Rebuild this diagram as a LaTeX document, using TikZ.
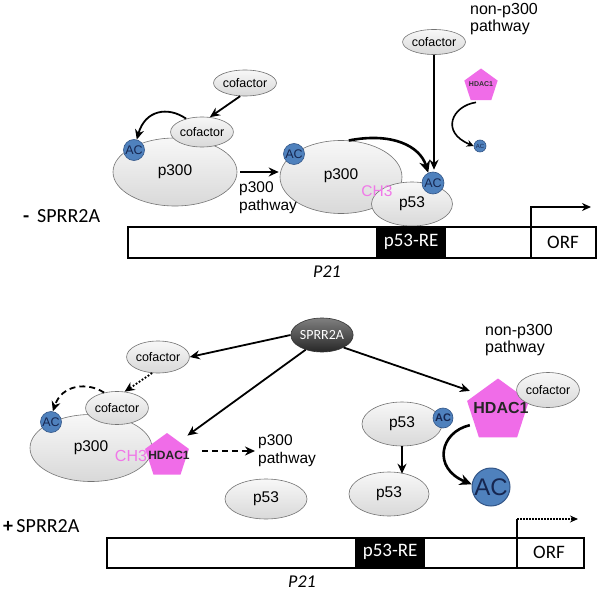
\documentclass[tikz,border=0pt]{standalone}
\usepackage{fontspec}
\setmainfont{Liberation Sans}
\newfontfamily\calib{Carlito}
\usetikzlibrary{shapes.geometric,arrows.meta}
\definecolor{acblue}{RGB}{79,129,189}
\definecolor{acedge}{RGB}{50,85,135}
\definecolor{actext}{RGB}{22,38,80}
\definecolor{hdac}{RGB}{240,108,232}
\definecolor{chthree}{RGB}{240,120,232}
\newcommand\myfs[2]{\fontsize{#1}{#2}\selectfont}
\begin{document}
\begin{tikzpicture}[x=1pt,y=1pt,
  prot/.style={ellipse, draw=black!55, line width=0.6pt, top color=gray!6, bottom color=gray!30, inner sep=0pt, font=\myfs{15.5}{18}},
  cof/.style={prot, font=\myfs{12.5}{12.5}},
  acs/.style={circle, draw=acedge, line width=0.6pt, fill=acblue, inner sep=0pt, text=actext, minimum size=21pt, font=\myfs{12.5}{12.5}},
  hd/.style={regular polygon, regular polygon sides=5, fill=hdac, inner sep=0pt},
  lbl/.style={align=left, inner sep=0pt, font=\myfs{15.5}{18}},
  arr/.style={-{Stealth[length=10pt,width=9pt]}, line width=1.8pt},
  thickarr/.style={-{Stealth[length=12pt,width=11pt]}, line width=2.6pt},
  dasharr/.style={arr, dash pattern=on 6pt off 4pt},
  dotarr/.style={arr, dash pattern=on 1.8pt off 1.8pt},
  bar/.style={draw, line width=1.5pt, fill=white, inner sep=0pt, anchor=north west},
  re/.style={fill=black, text=white, inner sep=0pt, anchor=north west, font=\calib\myfs{19}{19}},
  ch/.style={text=chthree, inner sep=0pt, font=\myfs{15.5}{15.5}}
]
\useasboundingbox (0,0) rectangle (600,-591);
\fill[white] (0,0) rectangle (600,-591);

% ================= TOP PANEL (- SPRR2A) =================
\node[prot, minimum width=124pt, minimum height=68pt] (p300a) at (175,-172) {p300};
\node[cof, minimum width=53pt, minimum height=30pt] (cofA2) at (202,-132) {cofactor};
\node[acs] (acA1) at (134,-150) {AC};
\node[cof, minimum width=58pt, minimum height=26pt] (cofA1) at (245,-83) {cofactor};
\draw[arr] (cofA1.250) -- (cofA2.62);
\draw[arr] (cofA2.140) .. controls (168,-106) and (145,-110) .. (acA1.75);

\node[prot, minimum width=122pt, minimum height=73pt] (p300b) at (341,-177) {\raisebox{6pt}{p300}};
\node[acs] (acA2) at (294,-154) {AC};
\node[prot, minimum width=81pt, minimum height=44pt] (p53a) at (412,-204) {\raisebox{-3pt}{p53}};
\node[acs, minimum size=22pt] (acA3) at (433,-183) {AC};
\node[ch] (chA) at (377,-191) {CH3};
\draw[arr] ([xshift=3pt]p300a.east) -- ([xshift=-1pt]p300a.east -| p300b.west);
\node[lbl, anchor=north west] (pwA) at (239,-181) {p300\\pathway};
\draw[thickarr] (p300b.78) .. controls (392,-132) and (420,-146) .. (acA3.115);

\node[cof, minimum width=55pt, minimum height=25pt] (cofA3) at (434,-42) {cofactor};
\draw[arr] (cofA3.south) -- ([yshift=2pt]cofA3.south |- acA3.north);
\node[lbl, anchor=north west, font=\myfs{16}{17}] (npA) at (470,-3) {non-p300\\pathway};
\node[hd, minimum size=35pt] (hdA) at (481,-86) {};
\node[inner sep=0pt, font=\bfseries\myfs{7}{7}, text=black!80] (hdAt) at (481,-84) {HDAC1};
\node[acs, minimum size=12pt, font=\myfs{6}{6}] (acA4) at (480,-146) {AC};
\draw[-{Stealth[length=7pt,width=7pt]}, line width=1.6pt] ([xshift=-5pt,yshift=-2pt]hdA.south) .. controls (452,-106) and (440,-132) .. (acA4.west);

\node[bar, minimum width=468pt, minimum height=31pt] (barA) at (127,-226) {};
\node[re, minimum width=70pt, minimum height=31pt] (reA) at (376,-226) {p53-RE};
\coordinate (tssA) at (531,-226);
\coordinate (tssAend) at (591,-207);
\draw[line width=1.5pt] (tssA) -- (tssA |- barA.south);
\node[inner sep=0pt, font=\calib\myfs{19}{19}] (orfA) at (563,-242) {ORF};
\draw[line width=1.6pt, -{Stealth[length=9pt,width=8pt]}] (tssA) |- (tssAend);
\node[inner sep=0pt, font=\calib\itshape\myfs{18}{18}] (p21A) at (327,-272) {P21};
\node[inner sep=0pt, anchor=west, font=\calib\myfs{20}{20}] (mA) at (23,-216) {\textbf{-}\, SPRR2A};

% ================= BOTTOM PANEL (+ SPRR2A) =================
\node[prot, minimum width=122pt, minimum height=67pt] (p300c) at (91,-448) {p300};
\node[cof, minimum width=57pt, minimum height=33pt] (cofB2) at (117,-408) {cofactor};
\node[acs] (acB) at (51,-422) {AC};
\node[cof, minimum width=57pt, minimum height=32pt] (cofB1) at (158,-357) {cofactor};
\node[hd, minimum size=46pt] (hdB) at (167,-456) {};
\node[ch, font=\myfs{16}{16}] (chB) at (131,-456) {CH3};
\node[inner sep=0pt, font=\bfseries\myfs{12}{12}, text=black!85] (hdBt) at (169,-455) {HDAC1};
\draw[dotarr] (cofB1.250) -- (cofB2.65);
\draw[dasharr] (cofB2.130) .. controls (88,-382) and (62,-384) .. (acB.80);

\node[ellipse, draw=black!80, line width=0.6pt, top color=black!50, bottom color=black!85, text=white, inner sep=0pt, minimum width=55pt, minimum height=34pt, font=\calib\myfs{14}{14}] (spr) at (322,-335) {SPRR2A};
\draw[arr] (spr.west) -- (cofB1.east);
\draw[arr] (spr.222) -- ([xshift=7pt,yshift=7pt]hdB.north east);

\node[lbl, anchor=west] (pwB) at (258,-451) {p300\\pathway};
\draw[dasharr] ([xshift=15pt]hdB.east |- pwB.west) -- ([xshift=-3pt]pwB.west);
\node[prot, minimum width=82pt, minimum height=40pt] (p53b) at (266,-499) {p53};

\node[lbl, anchor=north west, font=\myfs{16}{17}] (npB) at (485,-324) {non-p300\\pathway};
\node[hd, minimum size=65pt] (hdC) at (498,-411) {};
\node[inner sep=0pt, font=\bfseries\myfs{16}{16}, text=black!85] (hdCt) at (501,-408) {HDAC1};
\node[cof, minimum width=57pt, minimum height=35pt] (cofB3) at (548,-390) {cofactor};
\draw[arr] (spr.330) -- ([xshift=3pt,yshift=10pt]hdC.corner 2);

\node[prot, minimum width=80pt, minimum height=44pt] (p53c) at (402,-424) {p53};
\node[acs, minimum size=20pt, font=\bfseries\myfs{11}{11}] (acC) at (443,-418) {AC};
\node[prot, minimum width=80pt, minimum height=44pt] (p53d) at (389,-494) {p53};
\draw[arr] (p53c.south) -- ([yshift=-2pt]p53c.south |- p53d.north);

\node[acs, minimum size=38pt, line width=1pt, font=\myfs{24}{24}] (acBig) at (491,-487) {AC};
\draw[thickarr] ([xshift=-3pt,yshift=-6pt]hdC.side 2) .. controls (440,-432) and (432,-468) .. (acBig.172);

\node[bar, minimum width=477pt, minimum height=30pt] (barB) at (106,-537) {};
\node[re, minimum width=70pt, minimum height=30pt] (reB) at (355,-537) {p53-RE};
\coordinate (tssB) at (517,-537);
\coordinate (tssBtop) at (517,-519);
\coordinate (tssBend) at (578,-519);
\draw[line width=1.5pt] (tssB) -- (tssB |- barB.south);
\node[inner sep=0pt, font=\calib\myfs{19}{19}] (orfB) at (549,-552) {ORF};
\draw[line width=1.5pt] (tssB) -- (tssBtop);
\draw[line width=1.4pt, dash pattern=on 1.5pt off 1.5pt, -{Stealth[length=8pt,width=7pt]}] (tssBtop) -- (tssBend);
\node[inner sep=0pt, font=\calib\itshape\myfs{18}{18}] (p21B) at (302,-582) {P21};
\node[inner sep=0pt, anchor=west, font=\calib\myfs{20}{20}] (pB) at (3,-526) {\textbf{+}\,SPRR2A};
\end{tikzpicture}
\end{document}
